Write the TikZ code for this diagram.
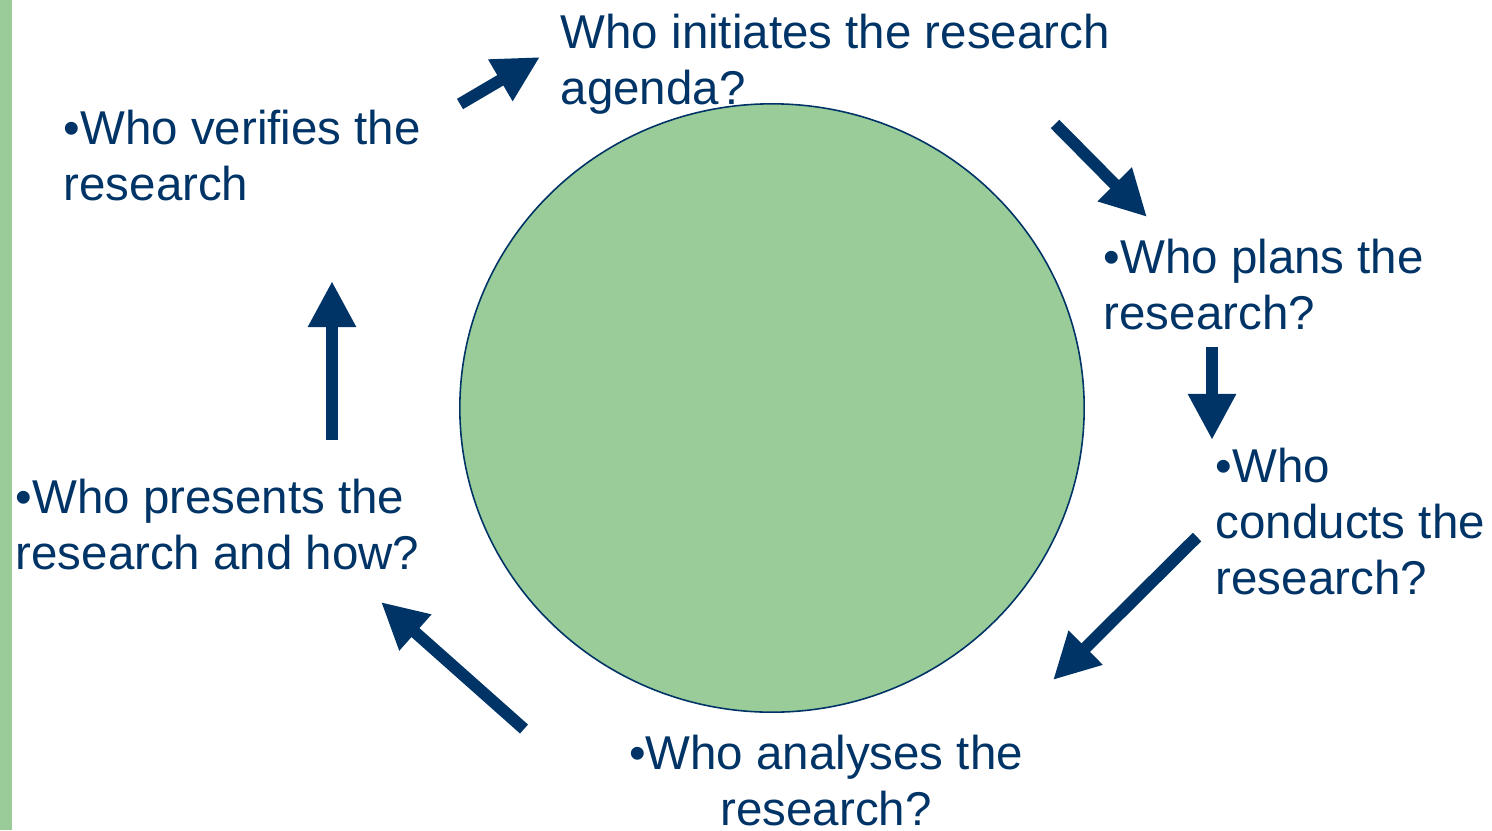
\documentclass[tikz,border=0pt]{standalone}
\usepackage{fontspec}
\setmainfont{Liberation Sans}
\usetikzlibrary{arrows.meta,shapes.geometric}
\definecolor{navy}{HTML}{003366}
\definecolor{leaf}{HTML}{99CC99}
\begin{document}
\begin{tikzpicture}[x=0.01cm,y=-0.01cm]

  \tikzset{flow/.style={draw=navy,line width=0.12cm,-{Triangle[length=0.46cm,width=0.45cm]}},
           question/.style={text=navy,inner sep=0pt,anchor=base west,align=left,
                            font=\fontsize{13.5pt}{15.9pt}\selectfont}}
  \useasboundingbox (0,0) rectangle (1492,830);
  \fill[leaf] (0,0) rectangle (12,830);

  % nodes are placed at the baseline of their last line
  \node[question] (initiates) at (560,104) {Who initiates the research\\agenda?};
  \node[question] (verifies) at (63,200) {•Who verifies the\\research};
  \node[question] (plans) at (1103,329) {•Who plans the\\research?};
  \node[question] (conducts) at (1215,594) {•Who\\conducts the\\research?};
  \node[question,anchor=base,align=center] (analyses) at (826,825) {•Who analyses the\\research?};
  \node[question] (presents) at (15,569) {•Who presents the\\research and how?};

  \node[ellipse,draw=navy,line width=0.45pt,fill=leaf,minimum width=6.24cm,
        minimum height=6.08cm,inner sep=0pt] (hub) at (772,408) {};

  \foreach \i/\sx/\sy/\tx/\ty in {1/460/104/540/57,2/1055/124/1147/217,3/1212/347/1212/440,
                                  4/1197/537/1053/680,5/524/729/381/602,6/332/440/332/281} {
    \coordinate (tail\i) at (\sx,\sy);
    \coordinate (tip\i) at (\tx,\ty);
    \draw[flow] (tail\i) -- (tip\i);
  }
\end{tikzpicture}
\end{document}
